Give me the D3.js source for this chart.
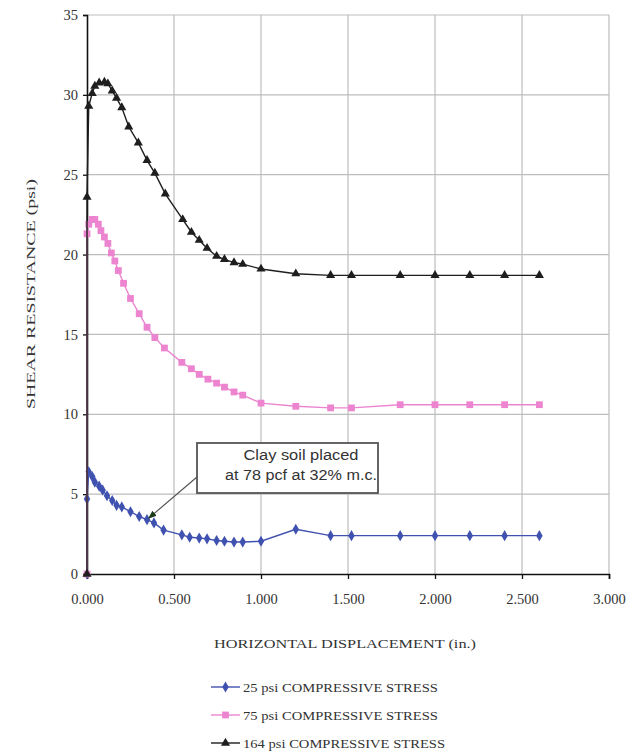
<!DOCTYPE html>
<html>
<head>
<meta charset="utf-8">
<script src="https://cdn.jsdelivr.net/npm/d3@7"></script>
<style>
  body { margin: 0; background: #fff; }
</style>
</head>
<body>
<div id="chart"></div>
<script>
// ---- data ----
const xTicks = [0, 0.5, 1.0, 1.5, 2.0, 2.5, 3.0];
const yTicks = [0, 5, 10, 15, 20, 25, 30, 35];

const seriesNames = ["25 psi COMPRESSIVE STRESS", "75 psi COMPRESSIVE STRESS", "164 psi COMPRESSIVE STRESS"];

const x25 = [0, 0, 0.01, 0.03, 0.045, 0.07, 0.09, 0.115, 0.145, 0.17, 0.20, 0.25, 0.30, 0.345, 0.385, 0.44, 0.545, 0.59, 0.645, 0.69, 0.745, 0.79, 0.845, 0.895, 1.0, 1.2, 1.4, 1.52, 1.8, 2.0, 2.2, 2.4, 2.6];
const y25 = [0, 4.7, 6.4, 6.1, 5.75, 5.5, 5.25, 4.9, 4.6, 4.3, 4.2, 3.9, 3.6, 3.4, 3.2, 2.75, 2.45, 2.3, 2.25, 2.2, 2.1, 2.05, 2.0, 2.0, 2.05, 2.8, 2.4, 2.4, 2.4, 2.4, 2.4, 2.4, 2.4];

const x75 = [0, 0, 0.01, 0.03, 0.045, 0.065, 0.08, 0.10, 0.12, 0.14, 0.16, 0.18, 0.21, 0.25, 0.30, 0.345, 0.39, 0.445, 0.545, 0.60, 0.645, 0.695, 0.745, 0.79, 0.845, 0.895, 1.0, 1.2, 1.4, 1.52, 1.8, 2.0, 2.2, 2.4, 2.6];
const y75 = [0, 21.3, 21.9, 22.2, 22.2, 21.9, 21.5, 21.1, 20.7, 20.1, 19.6, 19.0, 18.2, 17.25, 16.3, 15.45, 14.8, 14.15, 13.25, 12.85, 12.5, 12.2, 11.95, 11.7, 11.4, 11.2, 10.7, 10.5, 10.4, 10.4, 10.6, 10.6, 10.6, 10.6, 10.6];

const x164 = [0, 0, 0.01, 0.03, 0.045, 0.07, 0.10, 0.12, 0.145, 0.17, 0.20, 0.24, 0.295, 0.345, 0.39, 0.45, 0.55, 0.60, 0.645, 0.69, 0.745, 0.79, 0.845, 0.895, 1.0, 1.2, 1.4, 1.52, 1.8, 2.0, 2.2, 2.4, 2.6];
const y164 = [0, 23.6, 29.3, 30.1, 30.55, 30.75, 30.8, 30.7, 30.25, 29.8, 29.2, 28.0, 27.0, 25.9, 25.1, 23.8, 22.2, 21.4, 20.9, 20.4, 19.9, 19.7, 19.5, 19.4, 19.1, 18.8, 18.7, 18.7, 18.7, 18.7, 18.7, 18.7, 18.7];

const noteLines = ["Clay soil placed", "at 78 pcf at 32% m.c."];

// ---- layout ----
const W = 642, H = 753;
const margin = {top: 15, left: 87, right: 33, bottom: 179};
const width = W - margin.left - margin.right;
const height = H - margin.top - margin.bottom;
const serif = '"Liberation Serif", "Times New Roman", serif';

const svg = d3.select('#chart').append('svg')
  .attr('width', W)
  .attr('height', H);

const g = svg.append('g')
  .attr('transform', 'translate(' + margin.left + ',' + margin.top + ')');

const x = d3.scaleLinear().domain([0, 3]).range([0, width]);
const y = d3.scaleLinear().domain([0, 35]).range([height, 0]);

// gridlines
g.append('g')
  .selectAll('line')
  .data(xTicks.slice(1))
  .enter().append('line')
    .attr('x1', d => x(d)).attr('x2', d => x(d))
    .attr('y1', 0).attr('y2', height)
    .attr('stroke', '#bdbdbd').attr('stroke-width', 1.2);
g.append('g')
  .selectAll('line')
  .data(yTicks.slice(1))
  .enter().append('line')
    .attr('x1', 0).attr('x2', width)
    .attr('y1', d => y(d)).attr('y2', d => y(d))
    .attr('stroke', '#bdbdbd').attr('stroke-width', 1.2);

// axes
const xAxis = g.append('g')
  .attr('transform', 'translate(0,' + height + ')')
  .call(d3.axisBottom(x).tickValues(xTicks).tickFormat(d3.format(',.3f')).tickSize(5).tickPadding(15));
const yAxis = g.append('g')
  .call(d3.axisLeft(y).tickValues(yTicks).tickSize(4).tickPadding(5));

[xAxis, yAxis].forEach(a => {
  a.select('.domain').attr('stroke', '#111').attr('stroke-width', 1.6);
  a.selectAll('.tick line').attr('stroke', '#111').attr('stroke-width', 1.3);
  a.selectAll('.tick text')
    .attr('fill', '#333')
    .style('font-family', serif)
    .style('font-size', '14.5px');
});

// axis titles
svg.append('text')
  .attr('x', 345)
  .attr('y', 648)
  .attr('text-anchor', 'middle')
  .attr('fill', '#333')
  .attr('textLength', 262)
  .attr('lengthAdjust', 'spacingAndGlyphs')
  .style('font-family', serif)
  .style('font-size', '13px')
  .text('HORIZONTAL DISPLACEMENT (in.)');

svg.append('text')
  .attr('transform', 'translate(32,' + 294 + ') rotate(-90)')
  .attr('text-anchor', 'middle')
  .attr('dominant-baseline', 'middle')
  .attr('fill', '#333')
  .attr('textLength', 230)
  .attr('lengthAdjust', 'spacingAndGlyphs')
  .style('font-family', serif)
  .style('font-size', '13px')
  .text('SHEAR RESISTANCE (psi)');

// series
const series = [
  {name: seriesNames[0], xs: x25, ys: y25, color: '#4052b0', shape: d3.symbolDiamond, size: 36, legLen: 195},
  {name: seriesNames[1], xs: x75, ys: y75, color: '#ec84d0', shape: d3.symbolSquare, size: 46, legLen: 195},
  {name: seriesNames[2], xs: x164, ys: y164, color: '#1e1e1e', shape: d3.symbolTriangle, size: 36, legLen: 202}
];

const line = d3.line()
  .x(d => x(d[0]))
  .y(d => y(d[1]));

series.forEach(s => {
  const pts = s.xs.map((v, i) => [v, s.ys[i]]);
  g.append('path')
    .datum(pts)
    .attr('fill', 'none')
    .attr('stroke', s.color)
    .attr('stroke-width', 1.4)
    .attr('d', line);
  g.append('g')
    .selectAll('path')
    .data(pts)
    .enter().append('path')
      .attr('transform', d => 'translate(' + x(d[0]) + ',' + y(d[1]) + ')')
      .attr('d', d3.symbol().type(s.shape).size(s.size))
      .attr('fill', s.color);
});

// annotation box + arrow
svg.append('defs').append('marker')
  .attr('id', 'arrow')
  .attr('viewBox', '0 0 10 10')
  .attr('refX', 9).attr('refY', 5)
  .attr('markerWidth', 7).attr('markerHeight', 7)
  .attr('orient', 'auto')
  .append('path')
    .attr('d', 'M0,1 L10,5 L0,9 Z')
    .attr('fill', '#1a3a1a');

const boxX = 197, boxY = 443, boxW = 181, boxH = 50;
svg.append('line')
  .attr('x1', boxX).attr('y1', 477)
  .attr('x2', margin.left + x(0.355)).attr('y2', margin.top + y(3.5))
  .attr('stroke', '#555').attr('stroke-width', 1.2)
  .attr('marker-end', 'url(#arrow)');
svg.append('rect')
  .attr('x', boxX).attr('y', boxY)
  .attr('width', boxW).attr('height', boxH)
  .attr('fill', '#fff')
  .attr('stroke', '#555').attr('stroke-width', 1.8);
svg.append('g')
  .selectAll('text')
  .data(noteLines)
  .enter().append('text')
    .attr('x', 301)
    .attr('y', (d, i) => boxY + 17 + i * 20)
    .attr('text-anchor', 'middle')
    .attr('fill', '#333')
    .attr('textLength', (d, i) => i === 0 ? 115 : 152)
    .attr('lengthAdjust', 'spacingAndGlyphs')
    .style('font-family', '"Liberation Sans", Arial, sans-serif')
    .style('font-size', '14px')
    .text(d => d);

// legend
const legend = svg.append('g');
const legY = [687, 715, 743];
series.forEach((s, i) => {
  const row = legend.append('g').attr('transform', 'translate(211,' + legY[i] + ')');
  row.append('line')
    .attr('x1', 0).attr('x2', 29)
    .attr('stroke', s.color).attr('stroke-width', 1.4);
  row.append('path')
    .attr('transform', 'translate(14.5,0)')
    .attr('d', d3.symbol().type(s.shape).size(s.size))
    .attr('fill', s.color);
  row.append('text')
    .attr('x', 32)
    .attr('dy', '0.35em')
    .attr('fill', '#333')
    .attr('textLength', s.legLen)
    .attr('lengthAdjust', 'spacingAndGlyphs')
    .style('font-family', serif)
    .style('font-size', '13.5px')
    .text(s.name);
});
</script>
</body>
</html>
